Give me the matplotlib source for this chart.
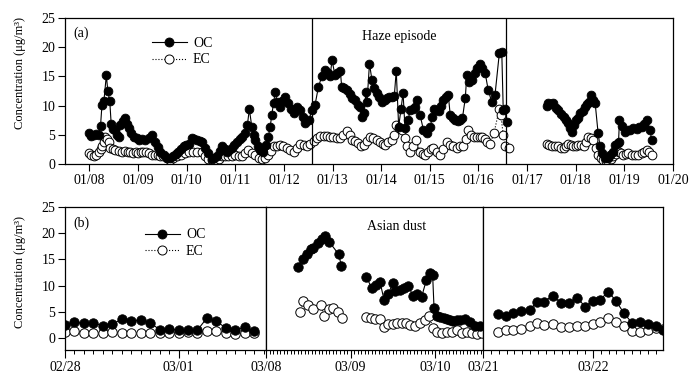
import numpy as np
import matplotlib
matplotlib.use("Agg")
import matplotlib.pyplot as plt
from matplotlib.lines import Line2D
from matplotlib.ticker import MultipleLocator

plt.rcParams['font.family'] = ['Liberation Serif', 'DejaVu Serif']
plt.rcParams['font.size'] = 10

nan = np.nan

# ---- (a) January, time as day of month (nan = gap in record) ----
oc_a_day = [7.99, 8.04, 8.09, 8.14, 8.19, 8.23, 8.26, 8.30, 8.35, 8.38, 8.42, 8.45, 8.49, 8.53, 8.57,
            8.60, 8.64, 8.69, 8.74, 8.78, 8.81, 8.86, 8.91, 8.97, 9.03, 9.09, 9.15, 9.22, 9.29, 9.36,
            9.41, 9.46, 9.53, 9.60, 9.66, 9.73, 9.78, 9.83, 9.89, 9.94, 9.99, 10.04, 10.11, 10.16, 10.21,
            10.27, 10.32, 10.38, 10.45, 10.52, 10.57, 10.62, 10.68, 10.73, 10.78, 10.83, 10.88, 10.93, 10.98, 11.03,
            11.09, 11.14, 11.21, 11.25, 11.29, 11.34, 11.38, 11.41, 11.46, 11.50, 11.55, 11.58, 11.63, 11.68, 11.72,
            11.75, 11.79, 11.82, 11.86, 11.92, 11.97, 12.03, 12.09, 12.15, 12.20, 12.27, 12.34, 12.39, 12.44, 12.51,
            12.58, 12.64, 12.71, 12.78, 12.85, 12.90, 12.95, 12.99, 13.05, 13.10, 13.16, 13.19, 13.23, 13.29, 13.35,
            13.40, 13.47, 13.52, 13.57, 13.60, 13.64, 13.69, 13.71, 13.76, 13.81, 13.86, 13.91, 13.96, 14.01, 14.07,
            14.12, 14.17, 14.22, 14.27, 14.31, 14.36, 14.41, 14.45, 14.49, 14.55, 14.60, 14.66, 14.70, 14.73, 14.80,
            14.87, 14.94, 15.01, 15.05, 15.09, 15.13, 15.18, 15.23, 15.28, 15.33, 15.38, 15.42, 15.47, 15.52, 15.57,
            15.62, 15.67, 15.73, 15.76, 15.81, 15.86, 15.92, 15.97, 16.03, 16.08, 16.14, 16.20, 16.27, 16.34, 16.43,
            16.48, 16.51, 16.55, 16.59, nan,
            17.40, 17.44, 17.49, 17.54, 17.59, 17.64, 17.70, 17.75, 17.80, 17.85, 17.89, 17.92, 17.97, 18.01, 18.05,
            18.09, 18.14, 18.19, 18.24, 18.28, 18.31, 18.36, 18.40, 18.46, 18.50, 18.55, 18.60, 18.66, 18.71, 18.76,
            18.81, 18.86, 18.88, 18.90, 18.96, 19.01, 19.07, 19.12, 19.18, 19.25, 19.30, 19.36, 19.41, 19.47, 19.53,
            19.56]
oc_a = [5.3, 4.8, 4.9, 5.2, 5.0, 6.5, 10.1, 10.8, 15.2, 12.5, 10.8, 6.8, 6.0, 5.9, 5.0,
        4.6, 6.7, 7.3, 7.8, 6.9, 6.1, 5.3, 4.7, 4.4, 4.1, 4.3, 4.1, 4.5, 5.0, 3.8,
        2.9, 2.1, 1.5, 1.0, 1.1, 1.3, 1.7, 2.1, 2.6, 3.0, 3.3, 3.5, 4.4, 4.2, 4.1,
        4.0, 3.8, 2.8, 1.8, 0.8, 1.1, 1.3, 2.2, 3.0, 2.5, 2.1, 2.4, 2.7, 3.2, 3.8,
        4.2, 4.7, 5.3, 6.7, 9.4, 6.4, 5.0, 4.1, 3.0, 2.4, 2.2, 2.1, 3.2, 4.7, 6.4,
        8.4, 10.5, 12.4, 10.7, 9.8, 10.8, 11.5, 10.4, 9.5, 8.7, 9.8, 9.2, 8.0, 7.0, 7.5,
        9.2, 10.1, 13.2, 15.0, 16.1, 15.5, 15.0, 17.8, 15.2, 15.5, 16.0, 13.1, 13.0, 12.7, 12.0,
        11.3, 11.0, 10.1, 9.8, 8.1, 8.7, 12.4, 10.7, 17.2, 14.4, 13.0, 12.1, 11.5, 10.7, 11.0,
        11.3, 11.4, 11.5, 11.6, 16.0, 6.4, 9.5, 12.2, 6.1, 7.5, 9.2, 9.5, 9.8, 11.0, 8.4,
        5.8, 5.3, 6.4, 8.0, 9.5, 9.2, 9.0, 10.0, 11.0, 11.4, 11.8, 8.4, 7.8, 7.5, 7.3,
        7.5, 7.8, 11.3, 15.2, 14.0, 14.4, 15.5, 16.4, 17.2, 16.5, 15.5, 12.7, 10.7, 11.8, 19.0,
        19.1, 9.2, 9.5, 7.2, nan,
        9.9, 10.4, 10.3, 10.4, 9.6, 9.2, 8.6, 8.1, 7.5, 7.0, 6.2, 5.5, 6.7, 7.5, 7.8,
        8.7, 9.0, 9.8, 10.2, 10.6, 11.8, 10.9, 10.4, 5.3, 3.0, 1.8, 1.0, 1.0, 1.5, 2.0,
        3.3, 3.6, 3.8, 7.5, 6.5, 5.5, 5.8, 5.9, 6.2, 6.0, 6.3, 6.4, 6.8, 7.5, 5.8,
        4.1]

ec_a_day = [7.99, 8.04, 8.09, 8.14, 8.19, 8.23, 8.26, 8.30, 8.33, 8.37, 8.40, 8.43, 8.48, 8.53, 8.60,
            8.67, 8.74, 8.80, 8.84, 8.90, 8.95, 9.00, 9.06, 9.11, 9.17, 9.23, 9.29, 9.35, 9.41, 9.46,
            9.52, 9.59, 9.66, 9.73, 9.80, 9.88, 9.97, 10.05, 10.14, 10.22, 10.31, 10.38, 10.45, 10.52, 10.59,
            10.66, 10.73, 10.79, 10.86, 10.93, 11.00, 11.07, 11.14, 11.21, 11.27, 11.34, 11.41, 11.48, 11.55, 11.62,
            11.68, 11.74, 11.79, 11.86, 11.92, 11.99, 12.06, 12.13, 12.20, 12.27, 12.34, 12.41, 12.48, 12.54, 12.61,
            12.68, 12.75, 12.82, 12.89, 12.95, 13.02, 13.09, 13.16, 13.22, 13.29, 13.35, 13.40, 13.47, 13.53, 13.58,
            13.64, 13.70, 13.77, 13.84, 13.91, 13.97, 14.03, 14.08, 14.15, 14.22, 14.27, 14.31, 14.37, 14.43, 14.48,
            14.53, 14.60, 14.66, 14.72, 14.80, 14.85, 14.90, 14.97, 15.03, 15.07, 15.14, 15.21, 15.28, 15.35, 15.41,
            15.48, 15.55, 15.62, 15.69, 15.74, 15.79, 15.85, 15.90, 15.97, 16.03, 16.07, 16.13, 16.18, 16.24, 16.32,
            16.43, 16.46, 16.51, 16.55, 16.62, nan,
            17.40, 17.45, 17.51, 17.57, 17.64, 17.70, 17.75, 17.80, 17.85, 17.90, 17.95, 18.00, 18.05, 18.11, 18.16,
            18.21, 18.26, 18.31, 18.36, 18.41, 18.46, 18.52, 18.57, 18.62, 18.67, 18.72, 18.77, 18.82, 18.88, 18.93,
            18.98, 19.03, 19.08, 19.15, 19.22, 19.29, 19.36, 19.41, 19.46, 19.51, 19.56]
ec_a = [1.8, 1.5, 1.3, 1.6, 2.1, 2.5, 3.0, 3.8, 4.7, 4.2, 3.8, 2.7, 2.5, 2.4, 2.2,
        2.1, 2.3, 2.0, 2.1, 1.9, 2.0, 1.8, 2.1, 2.0, 2.1, 1.8, 1.6, 1.5, 1.6, 1.4,
        1.3, 1.0, 0.7, 1.0, 1.3, 1.5, 1.8, 2.0, 2.1, 2.0, 2.1, 1.4, 0.9, 0.6, 0.4,
        0.8, 1.3, 1.3, 1.3, 1.4, 1.5, 1.4, 1.3, 1.8, 2.4, 1.9, 1.5, 1.1, 0.9, 1.1,
        1.5, 2.3, 3.0, 3.1, 3.3, 3.0, 2.7, 2.4, 2.1, 2.8, 3.5, 3.2, 3.0, 3.5, 4.0,
        4.4, 4.8, 4.8, 4.8, 4.7, 4.6, 4.4, 4.5, 5.0, 5.7, 4.9, 4.1, 3.9, 3.6, 3.0,
        3.2, 4.0, 4.7, 4.4, 4.1, 3.8, 3.5, 3.3, 3.7, 4.1, 5.0, 6.7, 6.2, 5.8, 4.4,
        3.0, 2.1, 3.0, 4.1, 2.1, 1.7, 1.5, 2.0, 2.6, 2.7, 2.1, 1.5, 2.5, 3.8, 3.3,
        3.0, 2.8, 3.0, 3.1, 4.3, 5.8, 5.0, 4.7, 4.6, 4.6, 4.7, 4.2, 3.8, 3.5, 5.3,
        9.5, 8.4, 5.0, 3.0, 2.7, nan,
        3.4, 3.2, 3.0, 3.0, 3.0, 2.8, 2.7, 3.0, 3.4, 3.2, 3.0, 3.1, 3.3, 3.2, 3.0,
        3.8, 4.7, 4.4, 4.1, 2.8, 1.5, 1.0, 0.7, 0.5, 0.4, 0.8, 1.3, 1.7, 2.1, 1.8,
        1.5, 1.7, 1.8, 1.6, 1.5, 1.6, 1.8, 2.1, 2.4, 2.0, 1.5]

a_ticks = [8, 9, 10, 11, 12, 13, 14, 15, 16, 17, 18, 19, 20]
a_ticklabels = ['01/08', '01/09', '01/10', '01/11', '01/12', '01/13', '01/14',
                '01/15', '01/16', '01/17', '01/18', '01/19', '01/20']
haze_start, haze_end = 12.58, 16.57

# ---- (b) three windows, time in hours from the window's first tick ----
b1_hr = [0, 2, 4, 6, 8, 10, 12, 14, 16, 18, 20, 22, 24, 26, 28, 30, 32, 34, 36, 38, 40]
b1_oc = [2.4, 3.0, 2.8, 2.9, 2.3, 2.6, 3.6, 3.3, 3.4, 2.9, 1.6, 1.7, 1.5, 1.5, 1.5, 3.8, 3.2, 1.9, 1.6, 2.0, 1.3]
b1_ec = [1.1, 1.4, 1.0, 1.0, 0.9, 1.2, 0.9, 0.9, 1.0, 1.0, 0.9, 0.9, 1.0, 1.1, 1.0, 1.3, 1.3, 0.9, 0.7, 0.9, 0.9]

b2_oc_hr = [9.2, 10.4, 11.6, 12.7, 13.4, 14.7, 15.8, 16.8, 18.0, 20.6, 21.4, nan,
            28.4, 30.0, 31.2, 32.4, 33.5, 34.7, 36.0, 36.6, 37.9, 39.2, 40.4, 41.7, 42.8, 44.2,
            45.5, 46.6, 47.3, 47.7, 48.5, 49.4, 50.4, 51.3, 52.2, 53.2, 54.1, 55.1, 56.5, 58.0,
            59.4, 60.8]
b2_oc = [13.6, 15.1, 16.1, 16.9, 17.2, 18.2, 18.8, 19.4, 18.3, 16.0, 13.8, nan,
         11.7, 9.6, 10.2, 10.6, 7.3, 8.3, 10.5, 8.9, 9.2, 9.6, 9.9, 8.1, 8.3, 7.9,
         11.0, 12.4, 12.1, 5.7, 4.2, 4.0, 3.8, 3.6, 3.4, 3.3, 3.4, 3.5, 3.7, 3.1,
         2.3, 2.3]
b2_ec_hr = [9.7, 10.6, 12.0, 13.3, 15.5, 16.6, 18.0, 19.1, 20.5, 21.5, nan,
            28.4, 29.7, 30.9, 32.4, 33.5, 34.7, 36.0, 37.3, 38.5, 39.7, 41.0, 42.3, 43.8, 45.2,
            46.4, 47.3, 48.5, 49.9, 51.3, 52.7, 54.2, 55.6, 57.0, 58.4, 59.8, 61.3]
b2_ec = [4.9, 7.1, 6.2, 5.5, 6.2, 4.2, 5.5, 5.7, 4.9, 3.9, nan,
         4.0, 3.8, 3.6, 3.6, 2.1, 2.7, 2.7, 2.8, 2.9, 2.8, 2.5, 2.3, 2.8, 3.5,
         4.2, 1.9, 1.2, 1.0, 1.2, 1.2, 1.5, 0.9, 1.2, 0.9, 0.8, 0.9]

b3_hr = [3.2, 5.0, 6.6, 8.4, 10.3, 11.7, 13.3, 15.2, 17.0, 18.8, 20.6, 22.3, 24.0, 25.5,
         27.4, 29.0, 30.8, 32.6, 34.3, 36.0, 37.8, 39.2]
b3_oc = [4.5, 4.1, 4.7, 5.2, 5.4, 6.9, 6.9, 8.1, 6.7, 6.7, 7.6, 6.0, 7.1, 7.3,
         8.8, 7.1, 4.7, 2.8, 3.0, 2.6, 2.2, 1.5]
b3_ec = [1.2, 1.5, 1.5, 1.7, 2.3, 2.8, 2.4, 2.6, 2.0, 2.0, 2.2, 2.2, 2.6, 3.0,
         3.8, 3.1, 2.2, 1.3, 1.2, 1.5, 1.9, 1.7]

oc_style = dict(color='black', lw=0.8, ls='-', marker='o', mfc='black', mec='black', mew=0.6)
ec_style = dict(color='black', lw=0.8, ls=':', marker='o', mfc='white', mec='black', mew=0.7)

fig = plt.figure(figsize=(6.97, 3.86), dpi=100)

# ---------- panel (a) ----------
ax = fig.add_axes([65/697, 1 - 164/386, 608/697, 146/386])
ax.plot(ec_a_day, ec_a, ms=6.3, **ec_style)
ax.plot(oc_a_day, oc_a, ms=6.3, **oc_style)
ax.set_xlim(7.5, 20.0)
ax.set_ylim(0, 25)
ax.set_xticks(a_ticks)
ax.set_xticklabels(a_ticklabels)
ax.set_yticks([0, 5, 10, 15, 20, 25])
ax.tick_params(direction='out', length=5, width=0.8, labelsize=10, pad=2)
ax.tick_params(top=False, right=False)
ax.axvline(haze_start, color='black', lw=0.9)
ax.axvline(haze_end, color='black', lw=0.9)
ax.text(14.37, 21.9, 'Haze episode', ha='center', va='center', fontsize=10)
ax.text(0.013, 0.897, '(a)', transform=ax.transAxes, ha='left', va='center', fontsize=10)
handles = [Line2D([], [], ms=6.5, **oc_style), Line2D([], [], ms=6.5, **ec_style)]
ax.legend(handles, ['OC', 'EC'], loc='upper left', bbox_to_anchor=(0.143, 0.87),
          frameon=False, handlelength=2.5, handletextpad=0.45, labelspacing=0.25,
          borderpad=0, borderaxespad=0, fontsize=10)
for s in ax.spines.values():
    s.set_linewidth(0.9)

# ---------- panel (b) ----------
bottom, height = 1 - 350/386, 143/386
b1 = fig.add_axes([65/697, bottom, 201/697, height])
b2 = fig.add_axes([266/697, bottom, 217/697, height])
b3 = fig.add_axes([483/697, bottom, 180/697, height])

b1.plot(b1_hr, b1_ec, ms=6.8, **ec_style)
b1.plot(b1_hr, b1_oc, ms=6.8, **oc_style)
b2.plot(b2_ec_hr, b2_ec, ms=6.8, **ec_style)
b2.plot(b2_oc_hr, b2_oc, ms=6.8, **oc_style)
b3.plot(b3_hr, b3_ec, ms=6.8, **ec_style)
b3.plot(b3_hr, b3_oc, ms=6.8, **oc_style)

b1.set_xlim(0, 42.5)
b2.set_xlim(0, 61.6)
b3.set_xlim(0, 39.3)
b1.set_xticks([0, 24])
b1.set_xticklabels(['02/28', '03/01'])
b2.set_xticks([0, 24, 48])
b2.set_xticklabels(['03/08', '03/09', '03/10'])
b3.set_xticks([0, 24])
b3.set_xticklabels(['03/21', '03/22'])
b1.xaxis.set_minor_locator(MultipleLocator(2))
b2.xaxis.set_minor_locator(MultipleLocator(1))
b3.xaxis.set_minor_locator(MultipleLocator(24/14))

for a in (b1, b2, b3):
    a.set_ylim(-2.3, 25)
    a.tick_params(which='major', direction='out', length=6, width=0.8, labelsize=10, pad=2)
    a.tick_params(which='minor', direction='out', length=3, width=0.7)
    a.tick_params(axis='y', which='both', left=False, labelleft=False)
    for s in a.spines.values():
        s.set_linewidth(0.9)
b1.set_yticks([0, 5, 10, 15, 20, 25])
b1.tick_params(axis='y', left=True, labelleft=True, length=5)

b1.text(0.04, 0.888, '(b)', transform=b1.transAxes, ha='left', va='center', fontsize=10)
b2.text(37.2, 21.3, 'Asian dust', ha='center', va='center', fontsize=10)
b1.legend(handles, ['OC', 'EC'], loc='upper left', bbox_to_anchor=(0.398, 0.85),
          frameon=False, handlelength=2.5, handletextpad=0.45, labelspacing=0.25,
          borderpad=0, borderaxespad=0, fontsize=10)

fig.text(20/697, 1 - 73/386, 'Concentration (μg/m³)', rotation=90, ha='center', va='center', fontsize=9)
fig.text(20/697, 1 - 272/386, 'Concentration (μg/m³)', rotation=90, ha='center', va='center', fontsize=9)

fig.savefig('out.png', dpi=100)
